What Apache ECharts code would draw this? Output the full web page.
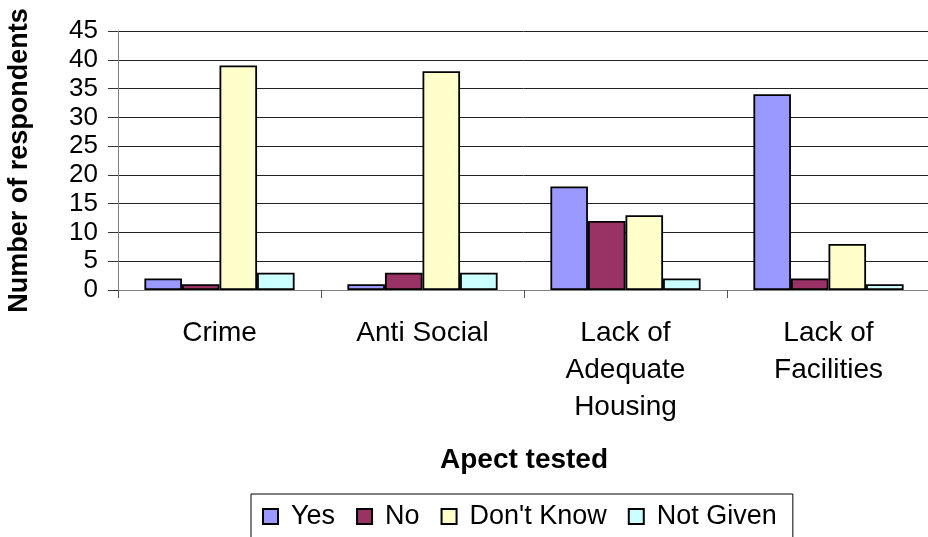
<!DOCTYPE html>
<html>
<head>
<meta charset="utf-8">
<script src="https://cdn.jsdelivr.net/npm/echarts@6/dist/echarts.min.js"></script>
<style>
  html, body { margin: 0; padding: 0; background: #fff; }
  #chart { width: 928px; height: 537px; }
</style>
</head>
<body>
<div id="chart"></div>
<script>
// Survey responses per aspect
const categories = ['Crime', 'Anti Social', 'Lack of\nAdequate\nHousing', 'Lack of\nFacilities'];
const yesValues = [2, 1, 18, 34];
const noValues = [1, 3, 12, 2];
const dontKnowValues = [39, 38, 13, 8];
const notGivenValues = [3, 3, 2, 1];
const yTicks = { min: 0, max: 45, interval: 5 };

const FONT = '"Liberation Sans", Arial, sans-serif';

function barSeries(name, data, color) {
  return {
    name: name,
    type: 'bar',
    data: data,
    barGap: '0%',
    barCategoryGap: '26%',
    itemStyle: { color: color, borderColor: '#000', borderWidth: 1.8 }
  };
}

const chart = echarts.init(document.getElementById('chart'), null, { renderer: 'canvas' });
chart.setOption({
  animation: false,
  backgroundColor: '#fff',
  grid: {
    left: 118, right: -2, top: 31, bottom: 247,
    containLabel: false, outerBoundsMode: 'none'
  },
  legend: {
    left: 251,
    top: 494,
    itemWidth: 15,
    itemHeight: 15,
    itemGap: 21,
    icon: 'rect',
    borderColor: '#000',
    borderWidth: 1,
    padding: [9, 16, 40, 11],
    textStyle: { fontFamily: FONT, fontSize: 27, color: '#000', padding: [0, 0, 0, 8] },
    data: ['Yes', 'No', "Don't Know", 'Not Given']
  },
  xAxis: {
    type: 'category',
    data: categories,
    name: 'Apect tested',
    nameLocation: 'middle',
    nameGap: 156,
    nameTextStyle: { fontFamily: FONT, fontSize: 28, fontWeight: 'bold', color: '#000' },
    axisLine: { lineStyle: { color: '#808080', width: 1 } },
    axisTick: { show: true, length: 8, lineStyle: { color: '#555' } },
    axisLabel: {
      fontFamily: FONT, fontSize: 28, color: '#000',
      margin: 25, lineHeight: 37, interval: 0
    }
  },
  yAxis: {
    type: 'value',
    min: yTicks.min,
    max: yTicks.max,
    interval: yTicks.interval,
    name: 'Number of respondents',
    nameLocation: 'middle',
    nameGap: 85,
    nameTextStyle: { fontFamily: FONT, fontSize: 27, fontWeight: 'bold', color: '#000' },
    axisLine: { show: true, lineStyle: { color: '#808080', width: 1 } },
    axisTick: { show: true, inside: false, length: 10, lineStyle: { color: '#333' } },
    axisLabel: { fontFamily: FONT, fontSize: 26, color: '#000', margin: 20 },
    splitLine: { show: true, lineStyle: { color: '#222', width: 1 } }
  },
  series: [
    barSeries('Yes', yesValues, '#9999FF'),
    barSeries('No', noValues, '#993366'),
    barSeries("Don't Know", dontKnowValues, '#FFFFCC'),
    barSeries('Not Given', notGivenValues, '#CCFFFF')
  ]
});
</script>
</body>
</html>
